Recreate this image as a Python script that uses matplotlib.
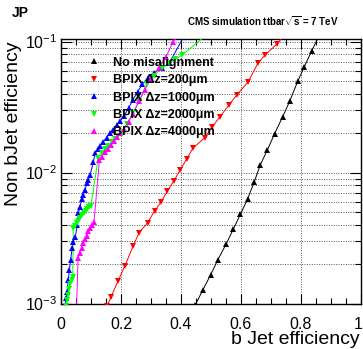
import numpy as np
import matplotlib
matplotlib.use("Agg")
import matplotlib.pyplot as plt
import matplotlib.transforms as mtransforms
from matplotlib.ticker import MultipleLocator, LogLocator, LogFormatterMathtext, NullFormatter, FixedLocator

plt.rcParams['font.family'] = ['Liberation Sans', 'DejaVu Sans']
plt.rcParams['mathtext.fontset'] = 'custom'
plt.rcParams['mathtext.rm'] = 'Liberation Sans'
plt.rcParams['mathtext.bf'] = 'Liberation Sans:bold'

# ---- data (b-jet efficiency, non-b-jet efficiency) ----
labels = ["No misalignment", "BPIX Δz=200μm", "BPIX Δz=1000μm",
          "BPIX Δz=2000μm", "BPIX Δz=4000μm"]

nomis_x = [0.448, 0.473, 0.499, 0.523, 0.551, 0.574, 0.598, 0.622, 0.644,
           0.664, 0.688, 0.712, 0.739, 0.763, 0.789, 0.811, 0.836, 0.862]
nomis_y = [0.00098, 0.00127, 0.00166, 0.00216, 0.00286, 0.00368, 0.0048,
           0.00628, 0.00846, 0.0114, 0.01486, 0.0198, 0.0267, 0.0353,
           0.0497, 0.0642, 0.0851, 0.113]

dz200_x = [0.154, 0.167, 0.190, 0.213, 0.241, 0.260, 0.289, 0.312, 0.333,
           0.354, 0.376, 0.398, 0.419, 0.440, 0.479, 0.503, 0.530, 0.559,
           0.586, 0.624, 0.656, 0.680, 0.719, 0.745]
dz200_y = [0.00096, 0.00113, 0.00148, 0.00194, 0.00276, 0.00347, 0.00414,
           0.0051, 0.00592, 0.00718, 0.00861, 0.0105, 0.0127, 0.0154,
           0.0184, 0.0221, 0.0267, 0.0326, 0.0391, 0.0493, 0.0682, 0.0789,
           0.0953, 0.112]

dz1000_x = [0.013, 0.017, 0.020, 0.024, 0.028, 0.032, 0.037, 0.041, 0.048,
            0.054, 0.058, 0.063, 0.069, 0.074, 0.080, 0.086, 0.091, 0.097,
            0.108, 0.114, 0.122, 0.130, 0.141, 0.152, 0.163, 0.174, 0.186,
            0.197, 0.210, 0.225, 0.240, 0.255, 0.270, 0.290, 0.310, 0.335,
            0.360, 0.410]
dz1000_y = [0.00095, 0.0011, 0.00123, 0.00151, 0.0018, 0.00215, 0.00264,
            0.00296, 0.00324, 0.00397, 0.00488, 0.00548, 0.00624, 0.00673,
            0.00735, 0.00827, 0.00877, 0.00957, 0.0121, 0.0140, 0.0150,
            0.0160, 0.0172, 0.0185, 0.0199, 0.0213, 0.0231, 0.0247, 0.027,
            0.031, 0.036, 0.041, 0.047, 0.053, 0.058, 0.063, 0.068, 0.11]

dz2000_x = [0.015, 0.019, 0.023, 0.027, 0.031, 0.035, 0.039, 0.041, 0.046,
            0.052, 0.058, 0.064, 0.070, 0.076, 0.082, 0.088, 0.094, 0.100,
            0.124, 0.135, 0.147, 0.158, 0.169, 0.180, 0.191, 0.202, 0.220,
            0.240, 0.260, 0.286, 0.310, 0.336, 0.360, 0.380, 0.404, 0.480]
dz2000_y = [0.00095, 0.00106, 0.00117, 0.00128, 0.0014, 0.00152, 0.0016,
            0.00375, 0.0039, 0.0041, 0.0043, 0.0045, 0.0047, 0.0049, 0.0051,
            0.0053, 0.0055, 0.0056, 0.0130, 0.0140, 0.0150, 0.0160, 0.0170,
            0.0180, 0.0190, 0.0202, 0.0235, 0.0285, 0.035, 0.0475, 0.055,
            0.0624, 0.068, 0.073, 0.0789, 0.11]

dz4000_x = [0.050, 0.057, 0.063, 0.069, 0.074, 0.080, 0.086, 0.091, 0.097,
            0.103, 0.110, 0.128, 0.135, 0.145, 0.155, 0.165, 0.175, 0.187,
            0.198, 0.210, 0.225, 0.240, 0.260, 0.280, 0.300, 0.325, 0.350,
            0.373, 0.400]
dz4000_y = [0.0007, 0.00222, 0.00243, 0.00265, 0.0029, 0.0031, 0.0033,
            0.0036, 0.0038, 0.0040, 0.0042, 0.0125, 0.0132, 0.0143, 0.0152,
            0.0163, 0.0175, 0.0188, 0.0200, 0.0215, 0.0245, 0.028, 0.035,
            0.043, 0.052, 0.063, 0.076, 0.0997, 0.115]

series = [
    (nomis_x, nomis_y, "black", "^"),
    (dz200_x, dz200_y, "#ff0000", "v"),
    (dz1000_x, dz1000_y, "#0000ff", "^"),
    (dz2000_x, dz2000_y, "#00ff00", "v"),
    (dz4000_x, dz4000_y, "#ff00ff", "^"),
]

W, H = 363, 349
fig = plt.figure(figsize=(W / 100, H / 100), dpi=100)
ax = fig.add_axes([61 / W, 1 - 303.5 / H, 300 / W, 265 / H])

handles = []
for (xs, ys, c, m), lab in zip(series, labels):
    ax.plot(xs, ys, color=c, lw=0.7, zorder=3)
    ax.plot(xs, ys, ls="none", marker=m, color=c, ms=4.3, mew=0, zorder=4)
    h, = ax.plot([], [], ls="none", marker=m, color=c, ms=4.3, mew=0)
    handles.append(h)

ax.set_yscale("log")
ax.set_xlim(0, 1)
ax.set_ylim(1e-3, 0.1055)

ax.xaxis.set_major_locator(FixedLocator([0, 0.2, 0.4, 0.6, 0.8, 1.0]))
ax.xaxis.set_minor_locator(MultipleLocator(0.05))
ax.set_xticklabels(["0", "0.2", "0.4", "0.6", "0.8", "1"])
ax.yaxis.set_major_locator(LogLocator(base=10, numticks=10))
ax.yaxis.set_minor_locator(LogLocator(base=10, subs=np.arange(2, 10), numticks=20))
ax.yaxis.set_major_formatter(LogFormatterMathtext())
ax.yaxis.set_minor_formatter(NullFormatter())

ax.tick_params(which="both", direction="in", top=True, right=True, labelsize=11.5,
               width=0.8, color="black")
ax.tick_params(axis="x", which="major", length=7, pad=10)
ax.tick_params(axis="x", which="minor", length=4)
ax.tick_params(axis="y", which="major", length=8, pad=3)
ax.tick_params(axis="y", which="minor", length=4)

# keep the last x tick label inside the canvas
last = ax.get_xticklabels()[-1]
last.set_transform(last.get_transform() +
                   mtransforms.ScaledTranslation(-3 / 100, 0, fig.dpi_scale_trans))

ax.grid(True, which="major", axis="x", ls=(0, (1, 1.5)), color="#555555", lw=0.7)
ax.grid(True, which="both", axis="y", ls=(0, (1, 1.5)), color="#555555", lw=0.7)
for s in ax.spines.values():
    s.set_linewidth(1.0)

ax.set_xlabel("b Jet efficiency", fontsize=14, ha="right", x=0.995, labelpad=-1)
ax.set_ylabel("Non bJet efficiency", fontsize=14, ha="right", y=0.99, labelpad=2)

leg = ax.legend(handles, labels, loc="upper left", bbox_to_anchor=(0.085, 0.931),
                frameon=False, prop={"weight": "bold", "size": 9},
                handlelength=1.2, handletextpad=0.9, labelspacing=0.43,
                borderaxespad=0, borderpad=0)

fig.text(12 / W, 1 - 13 / H, "JP", fontsize=10, fontweight="bold", va="center", ha="left")
fig.text(263 / W, 1 - 21 / H, r"CMS simulation ttbar$\sqrt{\mathbf{s}}$ = 7 TeV",
         fontsize=7, fontweight="bold", va="center", ha="center")

fig.savefig("out.png", dpi=100)
